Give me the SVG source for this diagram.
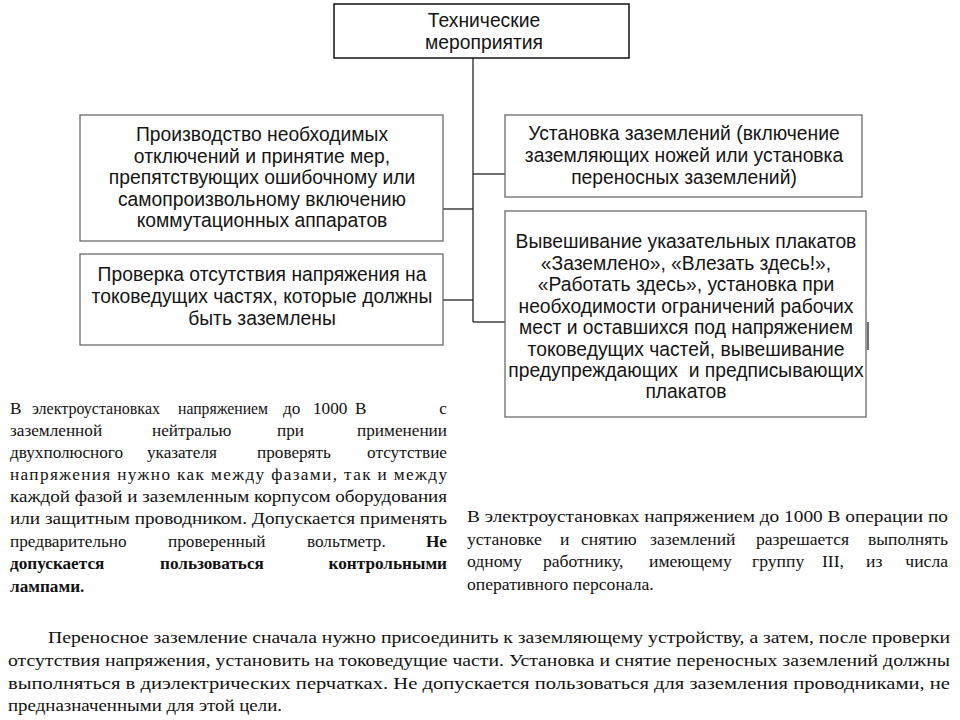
<svg xmlns="http://www.w3.org/2000/svg" width="960" height="720" viewBox="0 0 960 720">
<style>
.box{fill:#fff;stroke:#6a6a6a;stroke-width:1.3}
.top{fill:#fff;stroke:#111;stroke-width:1.5}
.bt{font-family:"Liberation Sans",Arial,sans-serif;font-size:19.3px;fill:#141414;text-anchor:middle}
.tt{font-family:"Liberation Sans",Arial,sans-serif;font-size:19.3px;fill:#141414;text-anchor:middle}
.p{font-family:"Liberation Serif","Times New Roman",serif;font-size:17.2px;fill:#111}
.r{font-size:17.6px}
.b{font-weight:bold}
.e{text-anchor:end}
.q{font-family:"Liberation Serif","Times New Roman",serif;font-size:17.5px;fill:#111}
.ln{stroke:#111;stroke-width:1.2;fill:none}
</style>
<rect width="960" height="720" fill="#fff"/>
<g id="connectors">
<line class="ln" x1="473" y1="58" x2="473" y2="322"/>
<line class="ln" x1="443" y1="209" x2="473" y2="209"/>
<line class="ln" x1="443" y1="300" x2="473" y2="300"/>
<line class="ln" x1="473" y1="174" x2="505" y2="174"/>
<line class="ln" x1="473" y1="322" x2="505" y2="322"/>
<line class="ln" x1="868" y1="322" x2="868" y2="350"/>
</g>
<g id="n-top">
<rect class="top" x="334" y="4" width="295" height="54"/>
<text class="tt" x="484" y="27">Технические</text>
<text class="tt" x="484" y="49">мероприятия</text>
</g>
<g id="n-l1">
<rect class="box" x="80" y="115" width="363" height="126"/>
<text class="bt" x="262" y="141">Производство необходимых</text>
<text class="bt" x="262" y="163">отключений и принятие мер,</text>
<text class="bt" x="262" y="184">препятствующих ошибочному или</text>
<text class="bt" x="262" y="206">самопроизвольному включению</text>
<text class="bt" x="262" y="227">коммутационных аппаратов</text>
</g>
<g id="n-l2">
<rect class="box" x="80" y="254" width="363" height="91"/>
<text class="bt" x="262" y="281">Проверка отсутствия напряжения на</text>
<text class="bt" x="262" y="303">токоведущих частях, которые должны</text>
<text class="bt" x="262" y="325">быть заземлены</text>
</g>
<g id="n-r1">
<rect class="box" x="505" y="115" width="357" height="82"/>
<text class="bt" x="684" y="140">Установка заземлений (включение</text>
<text class="bt" x="684" y="162">заземляющих ножей или установка</text>
<text class="bt" x="684" y="184">переносных заземлений)</text>
</g>
<g id="n-r2">
<rect class="box" x="505" y="211" width="361" height="206"/>
<text class="bt" x="686" y="248">Вывешивание указательных плакатов</text>
<text class="bt" x="686" y="270">«Заземлено», «Влезать здесь!»,</text>
<text class="bt" x="686" y="291">«Работать здесь», установка при</text>
<text class="bt" x="686" y="313">необходимости ограничений рабочих</text>
<text class="bt" x="686" y="334">мест и оставшихся под напряжением</text>
<text class="bt" x="686" y="356">токоведущих частей, вывешивание</text>
<text class="bt" x="686" y="377" style="white-space:pre">предупреждающих  и предписывающих</text>
<text class="bt" x="686" y="398">плакатов</text>
</g>
<g id="para-left">
<text class="p" x="10" y="414">В</text>
<text class="p" x="32" y="414" textLength="128" lengthAdjust="spacingAndGlyphs">электроустановках</text>
<text class="p" x="178" y="414" textLength="90" lengthAdjust="spacingAndGlyphs">напряжением</text>
<text class="p" x="283" y="414">до</text>
<text class="p" x="313" y="414">1000</text>
<text class="p" x="355" y="414">В</text>
<text class="p e" x="447" y="414">с</text>
<text class="p" x="10" y="436">заземленной</text>
<text class="p" x="152" y="436">нейтралью</text>
<text class="p" x="277" y="436">при</text>
<text class="p e" x="447" y="436">применении</text>
<text class="p" x="10" y="458">двухполюсного</text>
<text class="p" x="147" y="458">указателя</text>
<text class="p" x="257" y="458">проверять</text>
<text class="p e" x="447" y="458">отсутствие</text>
<text class="p" x="10" y="480" textLength="437" lengthAdjust="spacing">напряжения нужно как между фазами, так и между</text>
<text class="p" x="10" y="502" textLength="437" lengthAdjust="spacingAndGlyphs">каждой фазой и заземленным корпусом оборудования</text>
<text class="p" x="10" y="524" textLength="437" lengthAdjust="spacingAndGlyphs">или защитным проводником. Допускается применять</text>
<text class="p" x="10" y="547">предварительно</text>
<text class="p" x="168" y="547">проверенный</text>
<text class="p" x="307" y="547">вольтметр.</text>
<text class="p b e" x="447" y="547">Не</text>
<text class="p b" x="10" y="569">допускается</text>
<text class="p b" x="160" y="569">пользоваться</text>
<text class="p b e" x="447" y="569">контрольными</text>
<text class="p b" x="10" y="592">лампами.</text>
</g>
<g id="para-right">
<text class="p r" x="467" y="522" textLength="481" lengthAdjust="spacingAndGlyphs">В электроустановках напряжением до 1000 В операции по</text>
<text class="p r" x="467" y="545">установке</text>
<text class="p r" x="560" y="545">и</text>
<text class="p r" x="581" y="545">снятию</text>
<text class="p r" x="650" y="545">заземлений</text>
<text class="p r" x="756" y="545">разрешается</text>
<text class="p r e" x="948" y="545">выполнять</text>
<text class="p r" x="467" y="567">одному</text>
<text class="p r" x="543" y="567">работнику,</text>
<text class="p r" x="649" y="567">имеющему</text>
<text class="p r" x="752" y="567">группу</text>
<text class="p r" x="822" y="567">III,</text>
<text class="p r" x="866" y="567">из</text>
<text class="p r e" x="948" y="567">числа</text>
<text class="p r" x="467" y="590">оперативного персонала.</text>
</g>
<g id="para-bottom">
<text class="q" x="48" y="643" textLength="902" lengthAdjust="spacingAndGlyphs">Переносное заземление сначала нужно присоединить к заземляющему устройству, а затем, после проверки</text>
<text class="q" x="8" y="666" textLength="942" lengthAdjust="spacingAndGlyphs">отсутствия напряжения, установить на токоведущие части. Установка и снятие переносных заземлений должны</text>
<text class="q" x="8" y="689" textLength="942" lengthAdjust="spacingAndGlyphs">выполняться в диэлектрических перчатках. Не допускается пользоваться для заземления проводниками, не</text>
<text class="q" x="8" y="711" textLength="274" lengthAdjust="spacingAndGlyphs">предназначенными для этой цели.</text>
</g>
</svg>
